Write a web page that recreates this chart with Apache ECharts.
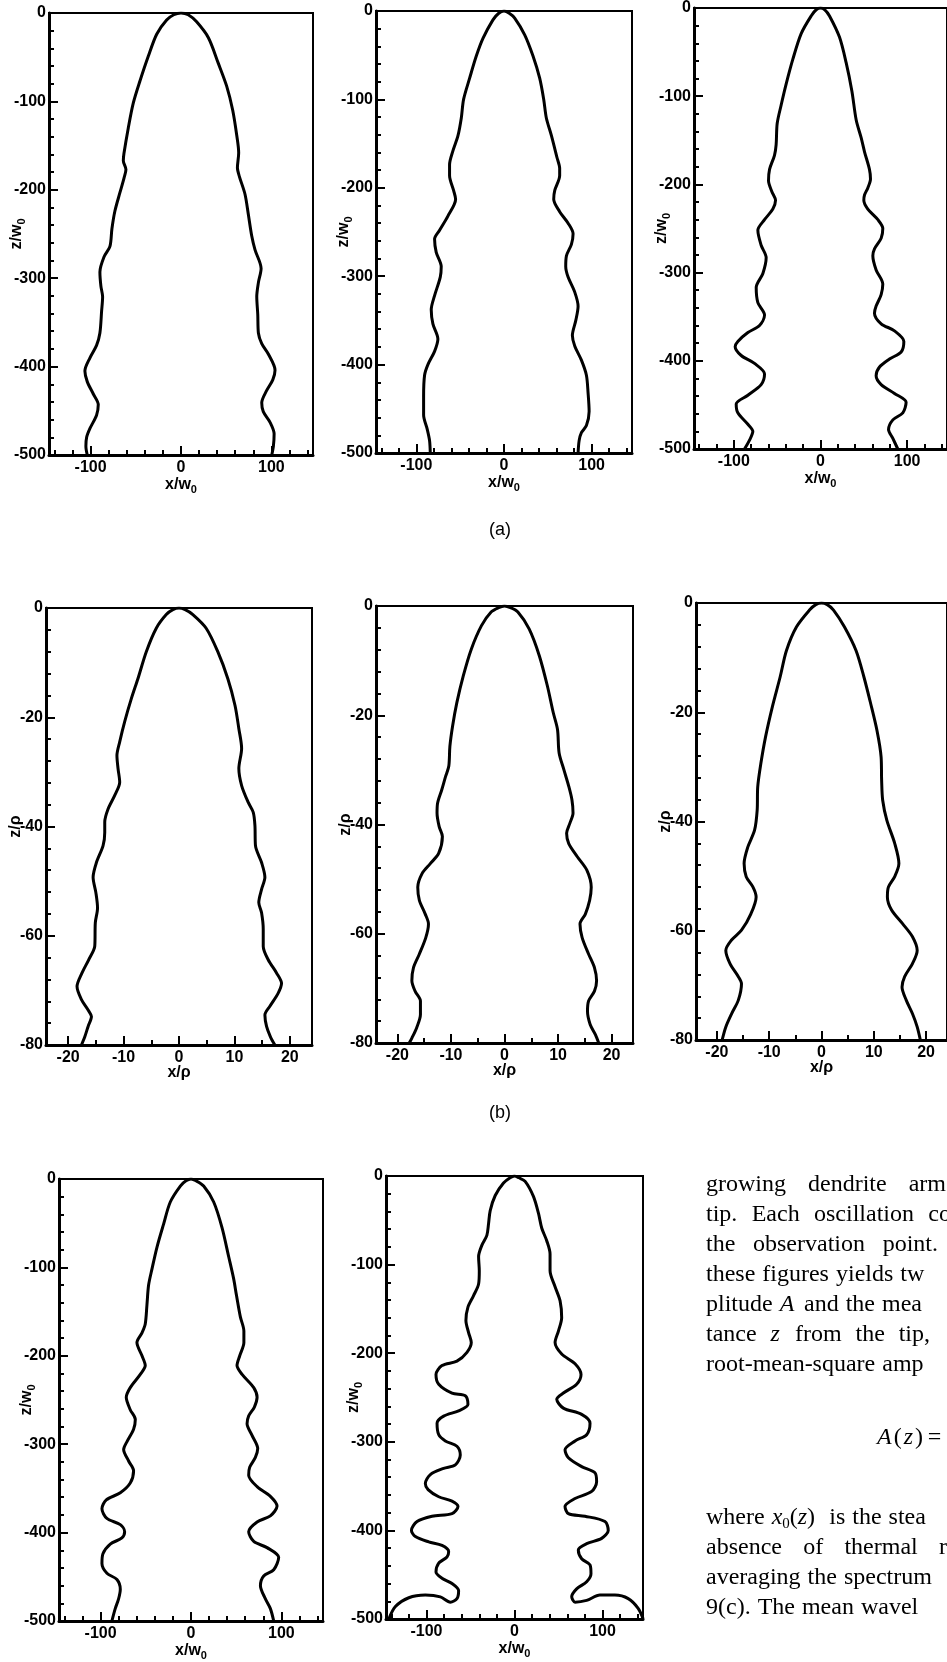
<!DOCTYPE html>
<html><head><meta charset="utf-8">
<script src="https://cdn.jsdelivr.net/npm/echarts@6.0.0/dist/echarts.min.js"></script>
<style>html,body{margin:0;padding:0;background:#fff}#c{width:947px;height:1662px}</style>
</head><body><div id="c"></div>
<script>
// ---------- data: profiles [x, z] from bottom-left, over the tip, to bottom-right ----------
const profileA1 = [[-103.7,-500],[-105.2,-490],[-104.4,-480],[-100.7,-470],[-93.4,-455],[-91.5,-443],[-97,-431],[-103.7,-417],[-106.3,-405],[-100.7,-390],[-93.4,-376],[-89.7,-362],[-87.8,-337],[-86.7,-321],[-88.6,-309],[-89.7,-293],[-85.2,-276],[-78.6,-264],[-76.4,-244],[-73.1,-224],[-67.5,-203],[-63.1,-187],[-60.9,-177],[-63.8,-167],[-63.1,-159],[-58.3,-130],[-52.8,-102],[-45.4,-77],[-36.2,-49],[-26.9,-24],[-15.9,-8],[-8,-2],[0,0],
 [8,-2],[17.3,-10],[30.3,-28],[41.3,-57],[50.6,-83],[57.2,-110],[61.6,-138],[63.8,-158],[62.4,-175],[64.6,-185],[70.8,-205],[74.5,-228],[78.2,-252],[81.9,-268],[88.6,-289],[85.6,-305],[83.8,-321],[84.9,-341],[85.6,-362],[89.3,-374],[96.7,-386],[104,-404],[101.5,-415],[94.8,-427],[89.3,-441],[91,-451],[98.5,-463],[103,-476],[102.2,-490],[100.4,-500]];
const profileA2 = [[-84.1,-500],[-84.9,-486],[-87.6,-473],[-91.7,-457],[-91.7,-436],[-90.6,-412],[-86.8,-400],[-79.2,-385],[-75.4,-371],[-81.1,-354],[-83,-338],[-79.2,-322],[-72.7,-301],[-71.6,-289],[-77.3,-273],[-79.2,-258],[-73.5,-248],[-64,-232],[-55.2,-213],[-57.5,-203],[-62.1,-186],[-62.1,-174],[-58.2,-158],[-52.5,-141],[-48.7,-121],[-46.1,-100],[-39.2,-76],[-31.6,-51],[-24,-31],[-12.6,-10],[-6,-2.5],[0,0],
 [6,-2.5],[12.2,-8],[23.6,-27],[33.1,-51],[40.7,-76],[45.3,-100],[48.3,-121],[54.1,-141],[60.5,-166],[63.5,-178],[63.5,-186],[57.9,-203],[56.7,-213],[63.5,-227],[73.1,-240],[78.8,-252],[76.9,-264],[71.2,-277],[70.4,-289],[73.1,-301],[80.7,-318],[84.5,-334],[81.9,-350],[78,-367],[80.7,-379],[88.3,-395],[94,-412],[95.9,-432],[97.1,-453],[94,-469],[88.3,-477],[85.7,-486],[84.5,-500]];
const profileA3 = [[-87.7,-500],[-81.9,-490],[-78.1,-480],[-83.8,-472],[-95.4,-459],[-97.3,-449],[-83.8,-439],[-68.5,-427],[-64.6,-415],[-76.2,-403],[-91.5,-394],[-98.5,-384],[-95.4,-378],[-83.8,-368],[-70.4,-360],[-64.6,-348],[-72.3,-334],[-74.2,-317],[-66.5,-301],[-62.7,-283],[-68.5,-269],[-72.3,-252],[-64.6,-240],[-55,-228],[-51.9,-218],[-56.2,-208],[-60,-196],[-58.8,-183],[-53.1,-167],[-51.2,-155],[-50,-131],[-45.4,-110],[-39.6,-86],[-31.9,-58],[-22.3,-29],[-10.8,-9],[-5,-2],[0,0],
 [5,-2],[10.4,-9],[21.9,-33],[29.6,-62],[36.2,-94],[41.2,-127],[46.9,-147],[50.8,-163],[56.5,-183],[57.7,-194],[54.6,-204],[50.8,-212],[50,-218],[54.6,-228],[66.2,-240],[71.9,-250],[70,-261],[62.3,-273],[60.4,-281],[64.2,-297],[71.9,-313],[70,-325],[64.2,-338],[62.3,-346],[70,-358],[85.4,-366],[96.2,-378],[93.1,-390],[79.6,-398],[68.1,-407],[64.2,-417],[70,-427],[85.4,-437],[98.8,-447],[95,-459],[83.5,-467],[78.5,-478],[83.5,-488],[89.2,-500]];
const profileB1 = [[-17.6,-80],[-17,-78.5],[-16.4,-76.6],[-15.8,-74.8],[-16.4,-73.6],[-17.6,-71.7],[-18.4,-69.3],[-17.5,-66.8],[-16.3,-64.4],[-15.2,-61.9],[-15.1,-57.6],[-14.7,-54.9],[-15,-52.1],[-15.5,-49.3],[-14.9,-46.6],[-13.7,-43.5],[-13.4,-41.1],[-13.4,-39.2],[-12.8,-36.8],[-11.6,-34.3],[-10.7,-31.9],[-11,-29.4],[-11.2,-27],[-10.7,-24.5],[-9.8,-20.8],[-8.6,-16.6],[-7.4,-12.9],[-5.9,-8],[-4.1,-3.7],[-2.3,-1.2],[-1.1,-0.3],[0,0],
 [1.1,-0.3],[2.5,-1.2],[4.9,-3.7],[7,-8],[8.8,-12.9],[10.1,-17.8],[10.8,-22.1],[11.3,-25.7],[10.8,-29.4],[11.3,-32.5],[12.5,-35.6],[13.4,-37.4],[13.7,-39.8],[13.8,-43.5],[14.9,-46.6],[15.5,-49.3],[14.9,-51.5],[14.4,-53.9],[14.9,-55.8],[15.2,-58.8],[15.2,-61.9],[16.1,-64.4],[17.6,-66.8],[18.5,-68.7],[17.9,-70.5],[16.4,-72.9],[15.5,-74.5],[15.8,-76.6],[16.5,-78.5],[17.3,-80]];
const profileB2 = [[-17.8,-80],[-17.3,-79.1],[-16.4,-77.2],[-15.7,-74.8],[-15.7,-72.3],[-16.7,-70.5],[-17.3,-68.6],[-17,-66.2],[-15.9,-63.7],[-14.7,-60.7],[-14.2,-58.2],[-14.8,-56.4],[-15.9,-53.9],[-16.2,-51.5],[-15.4,-49],[-13.9,-47.2],[-12.3,-45.3],[-11.6,-42.2],[-12.2,-40.4],[-12.6,-37.9],[-12.5,-36.1],[-11.7,-33.6],[-11,-31.2],[-10.4,-29.3],[-10.2,-25.7],[-9.7,-22],[-8.9,-17.7],[-7.7,-12.8],[-6.2,-7.9],[-4.3,-3.6],[-2.5,-1.1],[-1.1,-0.3],[0,0],
 [1.1,-0.3],[2.5,-1.1],[4.6,-4.2],[6.5,-9.1],[8,-14.6],[9.1,-19.5],[9.9,-22.6],[10.2,-26.9],[11.1,-30],[12,-33],[12.6,-35.5],[12.8,-37.9],[12.2,-39.8],[11.6,-41.6],[12,-43.5],[13.6,-45.9],[15.4,-48.4],[16.2,-51.5],[15.9,-53.9],[15.1,-56.4],[14.1,-58.2],[14.5,-60.7],[15.7,-63.7],[16.8,-66.2],[17.2,-68.6],[16.8,-70.5],[15.7,-72.3],[15.5,-74.2],[16,-76.6],[17,-78.5],[17.6,-80]];
const profileB3 = [[-19,-80],[-18.3,-77.6],[-17.2,-75.2],[-15.9,-72.7],[-15.3,-69.7],[-15.9,-68.4],[-17.5,-66],[-18.3,-63.6],[-17.2,-61.7],[-15.3,-59.9],[-13.5,-56.9],[-12.5,-53.8],[-13.1,-52],[-14.4,-50.1],[-14.8,-47.7],[-14.1,-44.7],[-12.8,-41.6],[-12.3,-37.9],[-12.2,-33.7],[-11.6,-29.4],[-10.7,-24.5],[-9.4,-19],[-7.9,-13.5],[-6.7,-8.7],[-4.8,-4.4],[-2.3,-1.3],[-1.1,-0.3],[0,0],
 [1.1,-0.3],[2.3,-1.3],[4.4,-4.4],[6.6,-8.7],[8.1,-13.5],[9.4,-18.4],[10.6,-23.3],[11.4,-28.2],[11.5,-32.5],[11.7,-36.1],[12.5,-39.8],[14,-44],[14.8,-47.7],[14,-50.1],[12.8,-52],[12.6,-53.8],[13.4,-56.2],[15.5,-58.7],[17.4,-61.1],[18.3,-63.6],[17.4,-66],[15.9,-68.4],[15.4,-70.3],[16.2,-72.7],[17.4,-75.2],[18.3,-77.6],[18.9,-80]];
const profileC1 = [[-87.5,-500],[-83.8,-486],[-80.1,-475],[-78.2,-464],[-81.9,-453],[-93,-446],[-98.5,-435],[-97.4,-424],[-89.3,-413],[-76.4,-406],[-73.4,-399],[-78.2,-391],[-93,-384],[-98.5,-373],[-93.7,-363],[-78.2,-355],[-67.2,-344],[-63.5,-330],[-69,-319],[-74.5,-306],[-70.8,-297],[-63.5,-283],[-61.6,-272],[-67.2,-261],[-71.6,-247],[-67.2,-236],[-56.1,-221],[-50.6,-211],[-54.2,-200],[-59.8,-185],[-54.2,-174],[-50.6,-164],[-48.7,-142],[-46.9,-120],[-43.2,-102],[-37.6,-77],[-30.3,-51],[-22.9,-26],[-11.8,-8],[-5.5,-2],[0,0],
 [5.5,-2],[14,-8],[25.1,-26],[34.3,-55],[41.7,-88],[47.2,-113],[50.2,-131],[54.6,-156],[58.5,-172],[58.5,-185],[53.9,-200],[50.9,-211],[56.5,-221],[69.4,-236],[73.1,-247],[70.1,-258],[63.8,-268],[62,-277],[67.5,-290],[73.8,-305],[71.2,-315],[64.9,-326],[63.8,-335],[73.1,-348],[87.8,-359],[95.2,-370],[87.8,-381],[73.1,-388],[63.8,-399],[69.4,-410],[84.1,-417],[97,-428],[91.5,-442],[80.4,-449],[76.8,-460],[82.3,-475],[87.8,-486],[91.5,-500]];
const profileC2 = [[-142.8,-500],[-135.3,-486],[-120.1,-476],[-101.3,-473],[-84.2,-475],[-72.9,-481],[-65.4,-477],[-63.5,-468],[-71,-460],[-82.4,-454],[-89.2,-447],[-86.1,-437],[-76.7,-430],[-74.8,-424],[-82.4,-417],[-97.5,-413],[-112.6,-407],[-117.1,-400],[-110.7,-390],[-93.7,-384],[-71,-381],[-64.2,-373],[-71,-367],[-86.1,-362],[-98.2,-354],[-101.3,-347],[-95.6,-337],[-80.5,-330],[-67.2,-326],[-61.6,-315],[-65.4,-305],[-78.6,-299],[-86.1,-292],[-88,-279],[-80.5,-271],[-63.5,-265],[-52.9,-258],[-55.9,-248],[-71,-245],[-86.1,-235],[-89.2,-224],[-82.4,-214],[-65.4,-209],[-54,-199],[-49.1,-188],[-52.1,-177],[-55.2,-163],[-52.9,-148],[-46.5,-135],[-40.8,-122],[-40,-107],[-40.8,-91],[-37,-78],[-31.4,-67],[-29.5,-54],[-27.6,-39],[-21.9,-22],[-12.5,-8],[-5,-2],[0,0],
 [5,-2],[12.1,-6],[21.5,-23],[27.2,-42],[31,-59],[36.6,-73],[40.4,-88],[40.4,-107],[46.1,-125],[51.8,-141],[53.6,-160],[49.9,-175],[46.1,-188],[53.6,-201],[68.8,-212],[75.6,-224],[70.6,-235],[55.5,-245],[48,-252],[55.5,-262],[76.3,-269],[85.8,-279],[82,-292],[68.8,-299],[57.4,-309],[61.2,-318],[76.3,-328],[91.4,-335],[93.3,-345],[87.7,-356],[68.8,-364],[57.4,-373],[61.2,-381],[80.1,-384],[102.8,-390],[106.5,-400],[99,-409],[82,-415],[72.5,-422],[76.3,-432],[85.8,-439],[86.9,-449],[82,-458],[70.6,-466],[65,-475],[68.8,-481],[82,-479],[97.1,-473],[114.1,-473],[129.2,-477],[140.5,-488],[146.2,-500]];

// ---------- tick labels ----------
const xLabelsW = [-100, 0, 100];
const xMinorW = [-140,-120,-100,-80,-60,-40,-20,0,20,40,60,80,100,120,140];
const yLabelsW = [0,-100,-200,-300,-400,-500];
const yMinorW = [0,-20,-40,-60,-80,-100,-120,-140,-160,-180,-200,-220,-240,-260,-280,-300,-320,-340,-360,-380,-400,-420,-440,-460,-480,-500];
const xLabelsRho = [-20,-10,0,10,20];
const xMinorRho = [-20,-15,-10,-5,0,5,10,15,20];
const yLabelsRho = [0,-20,-40,-60,-80];
const yMinorRho = [0,-4,-8,-12,-16,-20,-24,-28,-32,-36,-40,-44,-48,-52,-56,-60,-64,-68,-72,-76,-80];

// ---------- text ----------
const textLines1 = ['growing dendrite arm','tip. Each oscillation co','the observation point.','these figures yields tw','plitude {i|A} and the mea','tance {i|z} from the tip,','root-mean-square amp'];
const equationText = '{i|A}\u200a(\u200a{i|z}\u200a)\u2009=';
const textLines2 = ['where {i|x}{sub|0}({i|z}) is the stea','absence of thermal r','averaging the spectrum','9(c). The mean wavel'];
const subLabels = ['(a)','(b)'];

// ---------- layout ----------
const W = {xmin:-146,xmax:146,ymin:-500,ymax:0,xl:xLabelsW,xm:xMinorW,yl:yLabelsW,ym:yMinorW,xn:'{v|x/w}{s|0}',yn:'{v|z/w}{s|0}'};
const R = {xmin:-24,xmax:24,ymin:-80,ymax:0,xl:xLabelsRho,xm:xMinorRho,yl:yLabelsRho,ym:yMinorRho,xn:'{v|x/\u03c1}',yn:'{v|z/\u03c1}'};
const panels = [
  {d:profileA1,k:W,b:[49,13,264,442]},
  {d:profileA2,k:W,b:[376,11,256,442]},
  {d:profileA3,k:W,b:[694,7,262,442]},
  {d:profileB1,k:R,b:[46,608,266,437]},
  {d:profileB2,k:R,b:[376,606,257,437]},
  {d:profileB3,k:R,b:[696,603,260,437]},
  {d:profileC1,k:W,b:[59,1179,264,443]},
  {d:profileC2,k:W,b:[386,1176,257,443]}
];

const FONT = 'Liberation Sans';
const nameStyle = {
  color:'#000', fontFamily:FONT, fontWeight:'bold', fontSize:16,
  rich:{
    v:{color:'#000',fontFamily:FONT,fontWeight:'bold',fontSize:16},
    s:{color:'#000',fontFamily:FONT,fontWeight:'bold',fontSize:11,padding:[9,0,0,0]}
  }
};
const labelStyle = {color:'#000',fontFamily:FONT,fontWeight:'bold',fontSize:16};

const grid=[], xAxis=[], yAxis=[], series=[];
panels.forEach((p,i)=>{
  const k=p.k;
  grid.push({left:p.b[0],top:p.b[1],width:p.b[2],height:p.b[3],show:true,borderColor:'#000',borderWidth:2,backgroundColor:'transparent',containLabel:false});
  xAxis.push({type:'value',gridIndex:i,min:k.xmin,max:k.xmax,position:'bottom',
    axisLine:{show:true,onZero:false,lineStyle:{color:'#000',width:3}},
    axisTick:{show:true,inside:true,length:9,customValues:k.xl,lineStyle:{color:'#000',width:2}},
    axisLabel:{show:true,customValues:k.xl,margin:5,...labelStyle},
    splitLine:{show:false},
    name:k.xn,nameLocation:'middle',nameGap:20,nameMoveOverlap:false,nameTextStyle:nameStyle});
  xAxis.push({type:'value',gridIndex:i,min:k.xmin,max:k.xmax,position:'bottom',
    axisLine:{show:false,onZero:false},
    axisTick:{show:true,inside:true,length:5,customValues:k.xm,lineStyle:{color:'#000',width:2}},
    axisLabel:{show:false},splitLine:{show:false}});
  yAxis.push({type:'value',gridIndex:i,min:k.ymin,max:k.ymax,position:'left',
    axisLine:{show:true,onZero:false,lineStyle:{color:'#000',width:3}},
    axisTick:{show:true,inside:true,length:9,customValues:k.yl,lineStyle:{color:'#000',width:2}},
    axisLabel:{show:true,customValues:k.yl,margin:3,...labelStyle},
    splitLine:{show:false},
    name:k.yn,nameLocation:'middle',nameGap:22,nameRotate:90,nameMoveOverlap:false,nameTextStyle:nameStyle});
  yAxis.push({type:'value',gridIndex:i,min:k.ymin,max:k.ymax,position:'left',
    axisLine:{show:false,onZero:false},
    axisTick:{show:true,inside:true,length:5,customValues:k.ym,lineStyle:{color:'#000',width:2}},
    axisLabel:{show:false},splitLine:{show:false}});
  series.push({type:'line',xAxisIndex:2*i,yAxisIndex:2*i,data:p.d,showSymbol:false,symbol:'none',
    smooth:0.3,clip:true,silent:true,lineStyle:{color:'#000',width:3}});
});

// ---------- paragraph text (justified word placement) ----------
const TFONT = 'Liberation Serif', TSIZE = 24;
const mctx = document.createElement('canvas').getContext('2d');
mctx.font = TSIZE+'px "'+TFONT+'"';
const plain = s => s.replace(/\{\w+\|([^}]*)\}/g,'$1');
const tw = s => mctx.measureText(plain(s)).width;
const richT = {
  i:{fontFamily:TFONT,fontStyle:'italic',fontSize:TSIZE,fill:'#000'},
  sub:{fontFamily:TFONT,fontSize:15,fill:'#000',padding:[12,0,0,0]}
};
const graphic = [];
function placeLine(str,x0,y,target){
  const words=str.split(' ');
  const total=words.reduce((a,w)=>a+tw(w),0);
  let gap = tw(' ')+1;
  if(target && words.length>1) gap=(target-x0-total)/(words.length-1);
  let x=x0;
  words.forEach(w=>{
    graphic.push({type:'text',x:x,y:y,silent:true,style:{text:w,fill:'#000',font:TSIZE+'px "'+TFONT+'"',verticalAlign:'middle',align:'left',rich:richT}});
    x+=tw(w)+gap;
  });
}
const TX = 706;
const targets1 = [946,951,938,null,null,930,null];
const ys1 = [1185,1215,1245,1275,1305,1335,1365];
textLines1.forEach((s,i)=>placeLine(s,TX,ys1[i],targets1[i]));
graphic.push({type:'text',x:877,y:1438,silent:true,style:{text:equationText,fill:'#000',font:TSIZE+'px "'+TFONT+'"',verticalAlign:'middle',align:'left',rich:richT}});
const targets2 = [null,947,null,null];
const ys2 = [1518,1548,1578,1608];
textLines2.forEach((s,i)=>placeLine(s,TX,ys2[i],targets2[i]));
// sub-figure labels
[[500,530],[500,1113]].forEach((pos,i)=>{
  graphic.push({type:'text',x:pos[0],y:pos[1],silent:true,style:{text:subLabels[i],fill:'#000',font:'18px "'+FONT+'"',align:'center',verticalAlign:'middle'}});
});

const chart = echarts.init(document.getElementById('c'),null,{renderer:'canvas',width:947,height:1662});
chart.setOption({animation:false,backgroundColor:'#fff',grid,xAxis,yAxis,series,graphic});
</script>
</body></html>
